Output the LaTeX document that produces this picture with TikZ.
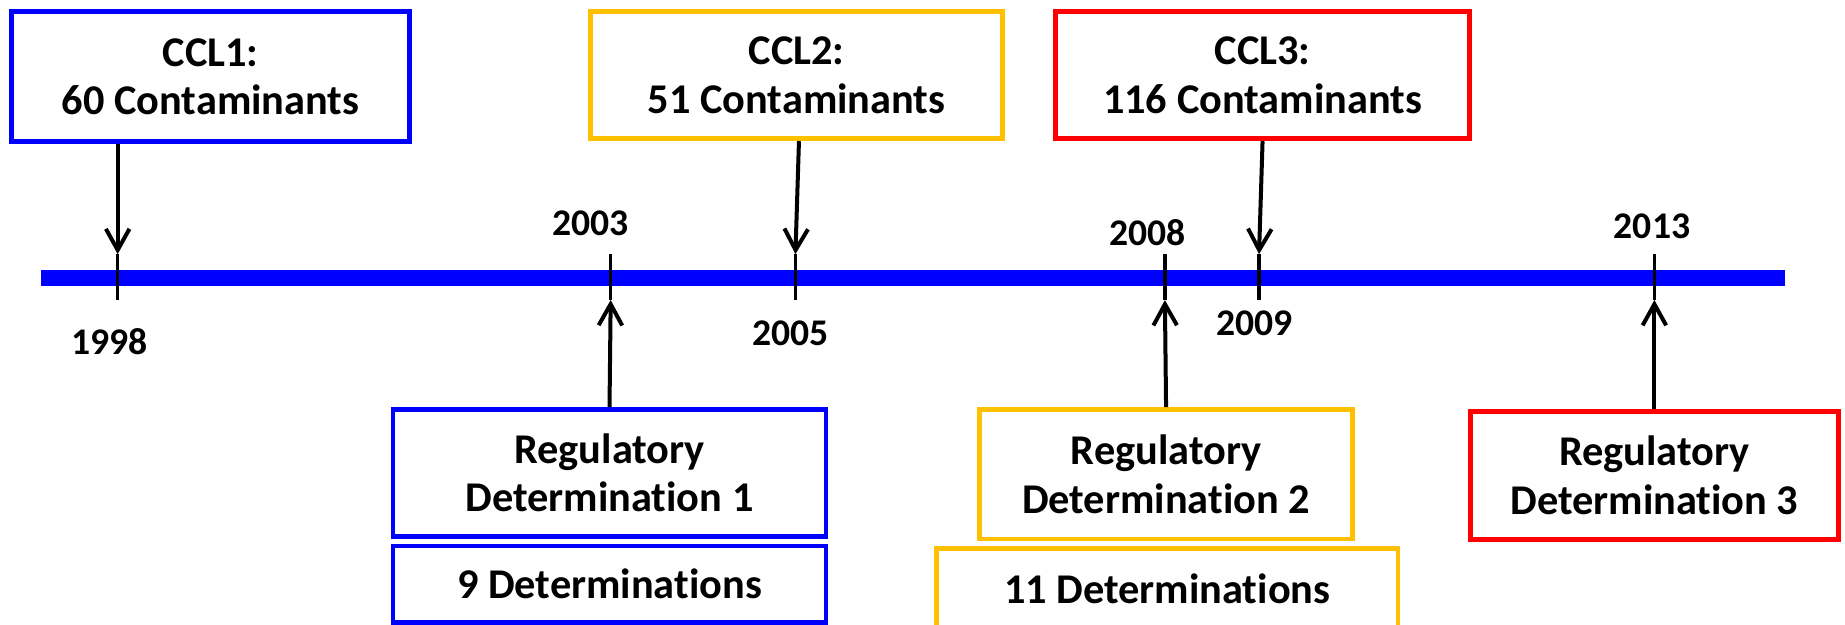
\documentclass[tikz,border=0pt]{standalone}
\usepackage{fontspec}
\setmainfont[Ligatures=NoCommon]{Carlito}
\usepackage{xcolor}
\usetikzlibrary{arrows.meta}
\definecolor{ccorange}{RGB}{255,192,0}
\begin{document}
\begin{tikzpicture}[x=0.5pt,y=-0.5pt,
    box/.style={draw=#1,line width=2pt,fill=white,align=center,inner sep=0pt,
      font=\fontsize{18}{20.5}\selectfont\bfseries},
    yearlbl/.style={font=\fontsize{16}{18}\selectfont\bfseries,inner sep=0pt},
    tick/.style={line width=1.5pt},
    arr/.style={line width=1.7pt,-{Straight Barb[length=9pt,width=10pt,line width=1.7pt]}}]
        \useasboundingbox (0,0) rectangle (1568,531);
        \draw[line width=6.8pt,blue] (35,236) -- (1517,236);
        \foreach \yr/\xx in {1998/100,2003/519,2005/676,2008/990,2009/1070,2013/1406} {
            \coordinate (top\yr) at (\xx,216);
            \coordinate (bot\yr) at (\xx,255);
            \draw[tick] (top\yr) -- (bot\yr);
        }
        \node[yearlbl] (l1998) at ( 93,290) {1998};
        \node[yearlbl] (l2003) at (502,190) {2003};
        \node[yearlbl] (l2005) at (672,283) {2005};
        \node[yearlbl] (l2008) at (975,198) {2008};
        \node[yearlbl] (l2009) at (1066,275) {2009};
        \node[yearlbl] (l2013) at (1404,192) {2013};
        \node[box=blue,minimum width=169pt,minimum height=55pt] (ccl1) at (179,65) {CCL1:\\60 Contaminants};
        \node[box=ccorange,minimum width=175pt,minimum height=54pt] (ccl2) at (677,64) {CCL2:\\51 Contaminants};
        \node[box=red,minimum width=176pt,minimum height=54pt] (ccl3) at (1073,64) {CCL3:\\116 Contaminants};
        \node[box=blue,minimum width=184pt,minimum height=54pt] (rd1) at (518,402) {Regulatory\\Determination 1};
        \node[box=blue,minimum width=184pt,minimum height=32.5pt] (det9) at (518,496.5) {9 Determinations};
        \node[box=ccorange,minimum width=158.5pt,minimum height=55pt] (rd2) at (991,403) {Regulatory\\Determination 2};
        \node[box=ccorange,minimum width=196pt,minimum height=34pt] (det11) at (992,500) {11 Determinations};
        \node[box=red,minimum width=156.5pt,minimum height=54.5pt] (rd3) at (1406,404) {Regulatory\\Determination 3};
        \draw[arr] (ccl1.south -| top1998) -- (top1998);
        \draw[arr] ([xshift=1pt]ccl2.south) -- (top2005);
        \draw[arr] (ccl3.south) -- (top2009);
        \draw[arr] (rd1.north) -- (bot2003);
        \draw[arr] (rd2.north) -- (bot2008);
        \draw[arr] (rd3.north) -- (bot2013);
\end{tikzpicture}
\end{document}
